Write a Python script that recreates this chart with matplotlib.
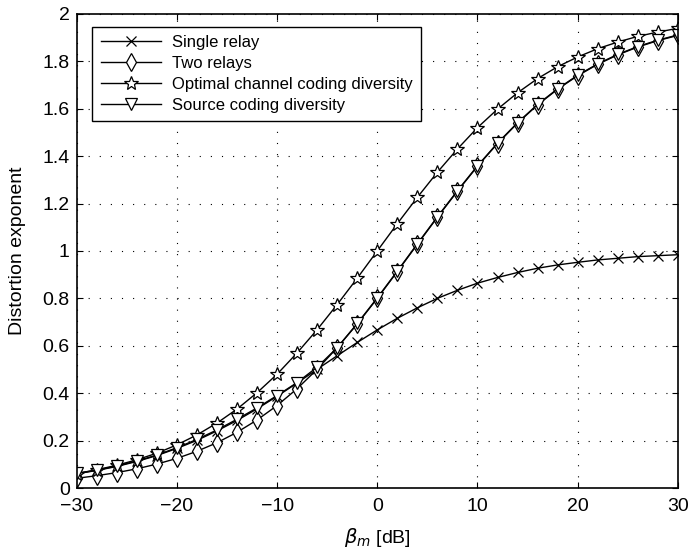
import matplotlib
matplotlib.use("Agg")
import matplotlib.pyplot as plt

plt.rcParams['font.family'] = ['Liberation Sans', 'DejaVu Sans']
plt.rcParams['mathtext.fontset'] = 'dejavusans'

beta_db = [-30, -28, -26, -24, -22, -20, -18, -16, -14, -12, -10, -8, -6, -4, -2,
           0, 2, 4, 6, 8, 10, 12, 14, 16, 18, 20, 22, 24, 26, 28, 30]

single_relay = [0.060, 0.074, 0.091, 0.112, 0.137, 0.167, 0.201, 0.241, 0.285, 0.334,
                0.387, 0.443, 0.501, 0.558, 0.614, 0.667, 0.716, 0.760, 0.800, 0.834,
                0.864, 0.888, 0.909, 0.927, 0.941, 0.952, 0.962, 0.969, 0.976, 0.980, 0.984]

two_relays = [0.041, 0.052, 0.065, 0.081, 0.101, 0.125, 0.155, 0.191, 0.235, 0.287,
              0.348, 0.419, 0.501, 0.592, 0.692, 0.800, 0.913, 1.028, 1.142, 1.252,
              1.357, 1.453, 1.539, 1.616, 1.682, 1.739, 1.787, 1.827, 1.860, 1.887, 1.909]

optimal_channel = [0.061, 0.077, 0.096, 0.119, 0.147, 0.182, 0.224, 0.274, 0.333, 0.402,
                   0.480, 0.570, 0.668, 0.774, 0.885, 1.000, 1.115, 1.226, 1.332, 1.430,
                   1.520, 1.598, 1.667, 1.727, 1.777, 1.818, 1.853, 1.881, 1.905, 1.923, 1.939]

source_coding = [0.062, 0.075, 0.093, 0.114, 0.139, 0.170, 0.205, 0.245, 0.290, 0.338,
                 0.390, 0.445, 0.510, 0.592, 0.694, 0.802, 0.915, 1.030, 1.144, 1.254,
                 1.359, 1.455, 1.541, 1.618, 1.684, 1.741, 1.789, 1.829, 1.862, 1.889, 1.911]

labels = ["Single relay", "Two relays", "Optimal channel coding diversity",
          "Source coding diversity"]

fig = plt.figure(figsize=(6.91, 5.53), dpi=100)
ax = fig.add_axes([0.111, 0.1175, 0.870, 0.8575])

kw = dict(color='black', linewidth=1.0, markerfacecolor='white',
          markeredgecolor='black', markeredgewidth=0.9)
ax.plot(beta_db, single_relay, marker='x', markersize=6.5, label=labels[0], **kw)
ax.plot(beta_db, two_relays, marker='d', markersize=9, label=labels[1], **kw)
ax.plot(beta_db, optimal_channel, marker='*', markersize=10, label=labels[2], **kw)
ax.plot(beta_db, source_coding, marker='v', markersize=8, label=labels[3], **kw)

ax.set_xlim(-30, 30)
ax.set_ylim(0, 2)
ax.set_xticks([-30, -20, -10, 0, 10, 20, 30])
ax.set_yticks([0, 0.2, 0.4, 0.6, 0.8, 1, 1.2, 1.4, 1.6, 1.8, 2])
ax.set_yticklabels(['0', '0.2', '0.4', '0.6', '0.8', '1', '1.2', '1.4', '1.6', '1.8', '2'])
ax.tick_params(direction='in', labelsize=14, length=4, width=0.8,
               top=True, right=True)
ax.tick_params(axis='x', pad=7)
ax.tick_params(axis='y', pad=5)
ax.grid(True, linestyle=(0, (1, 9)), color='black', linewidth=0.8)
for s in ax.spines.values():
    s.set_linewidth(1.2)

ax.set_xlabel(r'$\beta_m$ [dB]', fontsize=14, labelpad=8)
ax.set_ylabel('Distortion exponent', fontsize=14, labelpad=12)

leg = ax.legend(loc='upper left', fontsize=12, frameon=True, fancybox=False,
                edgecolor='black', handlelength=3.6, borderpad=0.5,
                labelspacing=0.35, handletextpad=0.7,
                bbox_to_anchor=(0.012, 0.99))
leg.get_frame().set_linewidth(1.0)
leg.get_frame().set_alpha(1)

fig.savefig('out.png', dpi=100)
